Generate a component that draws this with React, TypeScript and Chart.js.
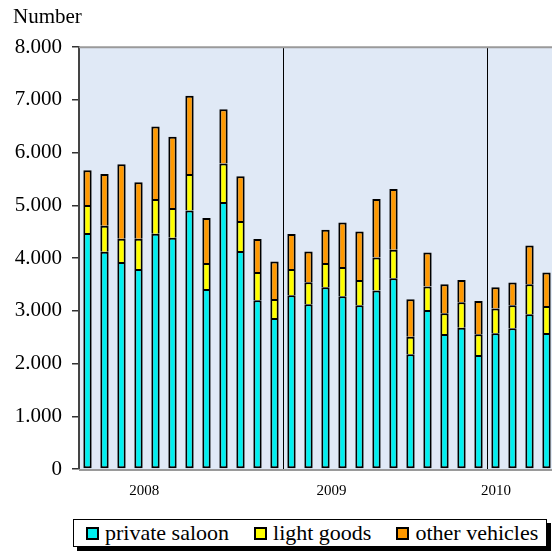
import React, { useEffect, useRef } from 'react';
import { Chart, registerables } from 'chart.js';

Chart.register(...registerables);

const months = [
  'Jan 2008', 'Feb 2008', 'Mar 2008', 'Apr 2008', 'May 2008', 'Jun 2008',
  'Jul 2008', 'Aug 2008', 'Sep 2008', 'Oct 2008', 'Nov 2008', 'Dec 2008',
  'Jan 2009', 'Feb 2009', 'Mar 2009', 'Apr 2009', 'May 2009', 'Jun 2009',
  'Jul 2009', 'Aug 2009', 'Sep 2009', 'Oct 2009', 'Nov 2009', 'Dec 2009',
  'Jan 2010', 'Feb 2010', 'Mar 2010', 'Apr 2010',
];

const privateSaloon = [
  4475, 4120, 3924, 3791, 4462, 4385, 4905, 3416, 5065, 4133, 3202, 2865,
  3297, 3125, 3449, 3278, 3106, 3384, 3620, 2175, 3017, 2561, 2681, 2162,
  2574, 2669, 2935, 2580,
];

const lightGoods = [
  533, 494, 443, 576, 660, 566, 692, 489, 728, 570, 532, 361,
  494, 419, 456, 551, 481, 627, 538, 335, 443, 393, 483, 393,
  468, 437, 571, 513,
];

const otherVehicles = [
  657, 983, 1412, 1070, 1374, 1349, 1483, 855, 1032, 848, 627, 709,
  665, 582, 633, 848, 919, 1111, 1154, 711, 647, 552, 423, 633,
  407, 430, 734, 633,
];

const yTicks = [0, 1000, 2000, 3000, 4000, 5000, 6000, 7000, 8000];
const yearLabels = ['2008', '2009', '2010'];
const seriesNames = ['private saloon', 'light goods', 'other vehicles'];

// layout / style constants
const yearLabelPos = [3.84, 14.86, 24.53];
const seriesColors = ['#00f0f0', '#ffff00', '#ff9900'];
const SERIF = "'Liberation Serif', 'Times New Roman', Times, serif";

function fmt(v: number): string {
  if (v === 0) return '0';
  return String(Math.round(v)).replace(/\B(?=(\d{3})+(?!\d))/g, '.');
}

const framePlugin = {
  id: 'frame',
  beforeDraw(chart: any) {
    const { ctx, chartArea: a } = chart;
    ctx.save();
    ctx.fillStyle = '#e0e9f6';
    ctx.fillRect(a.left, a.top, a.right - a.left, a.bottom - a.top);
    ctx.restore();
  },
  beforeDatasetsDraw(chart: any) {
    const { ctx, chartArea: a } = chart;
    ctx.save();
    ctx.strokeStyle = '#9a9a9a';
    ctx.lineWidth = 2;
    ctx.beginPath();
    ctx.moveTo(a.left, a.bottom + 1);
    ctx.lineTo(a.right + 10, a.bottom + 1);
    ctx.stroke();
    ctx.restore();
  },
  afterDraw(chart: any) {
    const { ctx, chartArea: a } = chart;
    ctx.save();
    ctx.strokeStyle = '#9a9a9a';
    ctx.lineWidth = 2;
    ctx.beginPath();
    ctx.moveTo(a.left, a.top);
    ctx.lineTo(a.right + 10, a.top);
    ctx.stroke();
    ctx.restore();
  },
};

export default function App() {
  const canvasRef = useRef<HTMLCanvasElement | null>(null);

  useEffect(() => {
    const canvas = canvasRef.current;
    if (!canvas) return;
    const series = [privateSaloon, lightGoods, otherVehicles];
    const chart = new Chart(canvas, {
      type: 'bar',
      data: {
        labels: months,
        datasets: series.map((d, i) => ({
          label: seriesNames[i],
          data: d,
          backgroundColor: seriesColors[i],
          borderColor: '#000',
          borderWidth: 2,
          borderSkipped: i === 0 ? false : 'bottom',
          barPercentage: 0.49,
          categoryPercentage: 1,
        })),
      },
      options: {
        responsive: false,
        animation: false,
        devicePixelRatio: 1,
        layout: { padding: { left: 13, right: 5, top: 0, bottom: 0 } },
        plugins: {
          legend: { display: false },
          tooltip: { enabled: false },
          title: {
            display: true,
            text: 'Number',
            align: 'start',
            color: '#000',
            font: { family: SERIF, size: 21, weight: 'normal' },
            padding: { top: 5, bottom: 17 },
          },
        },
        scales: {
          x: {
            stacked: true,
            offset: true,
            ticks: { display: false },
            grid: {
              offset: true,
              drawTicks: false,
              lineWidth: 1,
              color: (c: any) =>
                c.index === 12 || c.index === 24 ? '#000' : 'rgba(0,0,0,0)',
            },
            border: { display: false },
            afterFit: (s: any) => {
              s.height = 0;
            },
          },
          x2: {
            type: 'linear',
            position: 'bottom',
            offset: false,
            min: 0,
            max: months.length,
            afterBuildTicks: (s: any) => {
              s.ticks = yearLabelPos.map((v) => ({ value: v }));
            },
            ticks: {
              callback: (_v: any, i: number) => yearLabels[i],
              font: { family: SERIF, size: 15 },
              color: '#000',
              padding: 13,
              autoSkip: false,
              maxRotation: 0,
            },
            grid: { display: false, drawTicks: false, offset: false },
            border: { display: false },
            afterFit: (s: any) => {
              s.height = 41;
            },
          },
          y: {
            stacked: true,
            min: 0,
            max: 8000,
            afterBuildTicks: (s: any) => {
              s.ticks = yTicks.map((v) => ({ value: v }));
            },
            afterFit: (s: any) => {
              s.width = 66;
            },
            ticks: {
              callback: (v: any) => fmt(Number(v)),
              font: { family: SERIF, size: 21 },
              color: '#000',
              padding: 10,
            },
            grid: {
              drawOnChartArea: false,
              drawTicks: true,
              tickLength: 7,
              color: '#333',
              lineWidth: 1.5,
            },
            border: { display: true, color: '#444', width: 2 },
          },
        },
      } as any,
      plugins: [framePlugin],
    });
    return () => chart.destroy();
  }, []);

  return (
    <div
      style={{
        position: 'fixed',
        left: 0,
        top: 0,
        width: 552,
        height: 551,
        overflow: 'hidden',
        background: '#fff',
      }}
    >
      <canvas
        ref={canvasRef}
        width={560}
        height={510}
        style={{ position: 'absolute', left: 0, top: 0, width: 560, height: 510 }}
      />
      <div
        style={{
          position: 'absolute',
          left: 73,
          top: 519,
          width: 474,
          height: 28,
          boxSizing: 'border-box',
          border: '1px solid #000',
          background: '#fff',
          boxShadow: '4px 4px 0 #000',
          display: 'flex',
          alignItems: 'center',
          paddingLeft: 12,
          fontFamily: SERIF,
          fontSize: 22,
          lineHeight: '26px',
          color: '#000',
          whiteSpace: 'nowrap',
        }}
      >
        {seriesNames.map((n, i) => (
          <div
            key={n}
            style={{ display: 'flex', alignItems: 'center', marginRight: 25 }}
          >
            <span
              style={{
                display: 'inline-block',
                width: 13,
                height: 13,
                boxSizing: 'border-box',
                border: '2px solid #000',
                background: seriesColors[i],
                marginRight: 6,
              }}
            />
            <span>{n}</span>
          </div>
        ))}
      </div>
    </div>
  );
}
